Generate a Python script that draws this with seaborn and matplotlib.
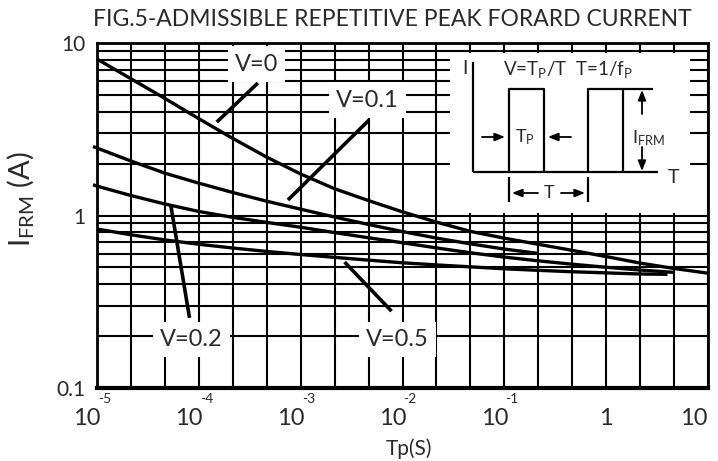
import numpy as np
import pandas as pd
import matplotlib
matplotlib.use("Agg")
import matplotlib.pyplot as plt
import matplotlib.transforms as mtransforms
import seaborn as sns
from matplotlib.ticker import FixedLocator, LogLocator, NullFormatter

# ---------------- data ----------------
tp_v0 = [1e-5, 2.15e-5, 4.64e-5, 1e-4, 2.15e-4, 4.64e-4, 1e-3, 2.15e-3, 4.64e-3, 1e-2,
         2.15e-2, 4.64e-2, 0.1, 0.215, 0.464, 1, 2.15, 4.64, 10]
i_v0 = [8.07, 6.21, 4.77, 3.64, 2.80, 2.18, 1.74, 1.43, 1.22, 1.05,
        0.916, 0.809, 0.739, 0.681, 0.628, 0.578, 0.530, 0.493, 0.463]

tp_v01 = [0.914e-5, 1e-5, 2.15e-5, 4.64e-5, 1e-4, 2.15e-4, 4.64e-4, 1e-3, 2.15e-3, 4.64e-3,
          1e-2, 2.15e-2, 4.64e-2, 0.1, 0.215]
i_v01 = [2.51, 2.46, 2.07, 1.76, 1.54, 1.36, 1.21, 1.088, 0.980, 0.887,
         0.807, 0.740, 0.685, 0.639, 0.603]

tp_v02 = [0.914e-5, 1e-5, 2.15e-5, 4.64e-5, 1e-4, 2.15e-4, 4.64e-4, 1e-3, 2.15e-3, 4.64e-3,
          1e-2, 2.15e-2, 4.64e-2, 0.1, 0.215, 0.464, 1, 2.15, 4.64]
i_v02 = [1.507, 1.48, 1.306, 1.166, 1.055, 0.976, 0.912, 0.855, 0.796, 0.743,
         0.695, 0.649, 0.608, 0.574, 0.546, 0.522, 0.501, 0.483, 0.468]

tp_v05 = [1e-5, 2.15e-5, 4.64e-5, 1e-4, 2.15e-4, 4.64e-4, 1e-3, 2.15e-3, 4.64e-3, 1e-2,
          2.15e-2, 4.64e-2, 0.1, 0.215, 0.464, 1, 2.15, 4.0]
i_v05 = [0.835, 0.773, 0.722, 0.681, 0.648, 0.619, 0.594, 0.572, 0.551, 0.532,
         0.517, 0.504, 0.491, 0.481, 0.472, 0.465, 0.458, 0.456]

series_names = ["V=0", "V=0.1", "V=0.2", "V=0.5"]

x_ticks = [1e-5, 1e-4, 1e-3, 1e-2, 1e-1, 1, 10]
x_tick_base = ["10", "10", "10", "10", "10", "1", "10"]
x_tick_exp = ["-5", "-4", "-3", "-2", "-1", "", ""]
y_ticks = [0.1, 1, 10]
y_tick_labels = ["0.1", "1", "10"]

# label anchor positions (data coords): text, leader start, leader end
label_pos = {
    "V=0":   ((3.7e-4, 7.55), (3.8e-4, 5.86), (1.5e-4, 3.48)),
    "V=0.1": ((4.5e-3, 4.67), (4.7e-3, 3.58), (7.5e-4, 1.23)),
    "V=0.2": ((8.5e-5, 0.19), (8.1e-5, 0.255), (5.3e-5, 1.15)),
    "V=0.5": ((8.9e-3, 0.19), (2.7e-3, 0.537), (7.8e-3, 0.279)),
}

df = pd.concat([
    pd.DataFrame({"Tp": tp_v0, "I": i_v0, "V": "V=0"}),
    pd.DataFrame({"Tp": tp_v01, "I": i_v01, "V": "V=0.1"}),
    pd.DataFrame({"Tp": tp_v02, "I": i_v02, "V": "V=0.2"}),
    pd.DataFrame({"Tp": tp_v05, "I": i_v05, "V": "V=0.5"}),
])

# ---------------- style ----------------
sns.set_theme(style="white")
plt.rcParams["font.family"] = ["Lato", "DejaVu Sans"]
plt.rcParams["mathtext.fontset"] = "custom"
plt.rcParams["mathtext.rm"] = "Lato"
plt.rcParams["mathtext.it"] = "Lato:italic"
plt.rcParams["mathtext.bf"] = "Lato:bold"
TXT = "#2a2a2a"

W, H = 718, 461
fig = plt.figure(figsize=(W / 100, H / 100), dpi=100)
L, R, T, B = 97, 708, 43, 388
ax = fig.add_axes([L / W, 1 - B / H, (R - L) / W, (B - T) / H])

sns.lineplot(data=df, x="Tp", y="I", units="V", estimator=None, color="black",
             linewidth=2.4, ax=ax, legend=False, sort=False, zorder=5)
for ln in ax.lines:
    ln.set_clip_on(False)
    ln.set_solid_capstyle("butt")
    ln.set_solid_joinstyle("round")

ax.set_xscale("log")
ax.set_yscale("log")
ax.set_xlim(1e-5, 10)
ax.set_ylim(0.1, 10)

# grid
ax.set_xticks(x_ticks)
ax.set_xticklabels([""] * len(x_ticks))
ax.xaxis.set_minor_locator(FixedLocator(10 ** np.arange(-5, 1.001, 1 / 3)))
ax.xaxis.set_minor_formatter(NullFormatter())
ax.set_yticks(y_ticks)
ax.set_yticklabels(y_tick_labels, fontsize=15, color=TXT)
ax.yaxis.set_minor_locator(LogLocator(base=10, subs=np.arange(2, 10)))
ax.yaxis.set_minor_formatter(NullFormatter())
ax.grid(which="both", color="black", linewidth=1.5)
ax.tick_params(which="both", length=0, pad=8)
for s in ax.spines.values():
    s.set_visible(True)
    s.set_color("black")
    s.set_linewidth(2.0)
ax.spines["bottom"].set_linewidth(3.0)
ax.set_xlabel("")
ax.set_ylabel("")

# x tick labels: "10" + raised exponent
trans = mtransforms.blended_transform_factory(ax.transData, ax.transAxes)
for xv, base, ex in zip(x_ticks, x_tick_base, x_tick_exp):
    if ex:
        tb = mtransforms.offset_copy(trans, fig=fig, x=4, y=0, units="dots")
        ax.text(xv, -0.107, base, transform=tb, ha="right", va="baseline",
                fontsize=17, color=TXT, clip_on=False)
        te = mtransforms.offset_copy(trans, fig=fig, x=1, y=0, units="dots")
        ax.text(xv, -0.044, ex, transform=te, ha="left", va="baseline",
                fontsize=10, color=TXT, clip_on=False)
    else:
        ha = "right" if xv == 10 else "center"
        ax.text(xv, -0.107, base, transform=trans, ha=ha, va="baseline",
                fontsize=17, color=TXT, clip_on=False)

fig.text(409 / W, 1 - 449 / H, "Tp(S)", ha="center", va="center",
         fontsize=15, color=TXT)
fig.text(21 / W, 1 - 199 / H, r"I$_{\mathregular{FRM}}$ (A)", rotation=90,
         ha="center", va="center", fontsize=21, color=TXT)
fig.text(392 / W, 1 - 20 / H, "FIG.5-ADMISSIBLE REPETITIVE PEAK FORARD CURRENT",
         ha="center", va="center", fontsize=16.5, color=TXT)

# curve labels with leader lines
for name in series_names:
    (tx, ty), (x0, y0), (x1, y1) = label_pos[name]
    ax.plot([x0, x1], [y0, y1], color="black", linewidth=2.6, zorder=6,
            solid_capstyle="butt")
    ax.text(tx, ty, name, ha="center", va="center",
            fontsize=17, color=TXT, zorder=7,
            bbox=dict(boxstyle="square,pad=0.3", fc="white", ec="none"))

# inset waveform diagram (schematic, in its own pixel-like coordinates)
ix0, iy0, ix1, iy1 = 450, 53, 690, 213
iax = fig.add_axes([ix0 / W, 1 - iy1 / H, (ix1 - ix0) / W, (iy1 - iy0) / H], zorder=3)
iax.set_xlim(ix0, ix1)
iax.set_ylim(iy1, iy0)
iax.set_facecolor("white")
iax.set_xticks([]); iax.set_yticks([])
for s in iax.spines.values():
    s.set_visible(False)
k = dict(color="black", linewidth=1.6, solid_capstyle="butt")
iax.plot([473, 473], [62, 172], **k)
iax.plot([473, 658], [172, 172], **k)
iax.plot([509, 509, 544, 544], [172, 89, 89, 172], **k)
iax.plot([588, 588, 623, 623], [172, 89, 89, 172], **k)
iax.plot([623, 653], [89, 89], **k)
iax.plot([509, 509], [177, 202], **k)
iax.plot([588, 588], [177, 202], **k)
ap = dict(arrowstyle="-|>,head_length=0.5,head_width=0.2", color="black", lw=1.3,
          shrinkA=0, shrinkB=0)
iax.annotate("", xy=(505, 137), xytext=(482, 137), arrowprops=ap)
iax.annotate("", xy=(548, 137), xytext=(571, 137), arrowprops=ap)
iax.annotate("", xy=(642, 90), xytext=(642, 114), arrowprops=ap)
iax.annotate("", xy=(642, 171), xytext=(642, 147), arrowprops=ap)
iax.annotate("", xy=(512, 193), xytext=(538, 193), arrowprops=ap)
iax.annotate("", xy=(585, 193), xytext=(561, 193), arrowprops=ap)
tk = dict(color=TXT, ha="center", va="center")
iax.text(465, 69, "I", fontsize=14, **tk)
iax.text(568, 70, r"V=T$_{\mathregular{P}}$/T  T=1/f$_{\mathregular{P}}$", fontsize=13.5, **tk)
iax.text(525, 137, r"T$_{\mathregular{P}}$", fontsize=13, **tk)
iax.text(648, 138, r"I$_{\mathregular{FRM}}$", fontsize=13, **tk)
iax.text(549, 193, "T", fontsize=13, **tk)
iax.text(673, 178, "T", fontsize=14, **tk)

fig.savefig("out.png", dpi=100)
